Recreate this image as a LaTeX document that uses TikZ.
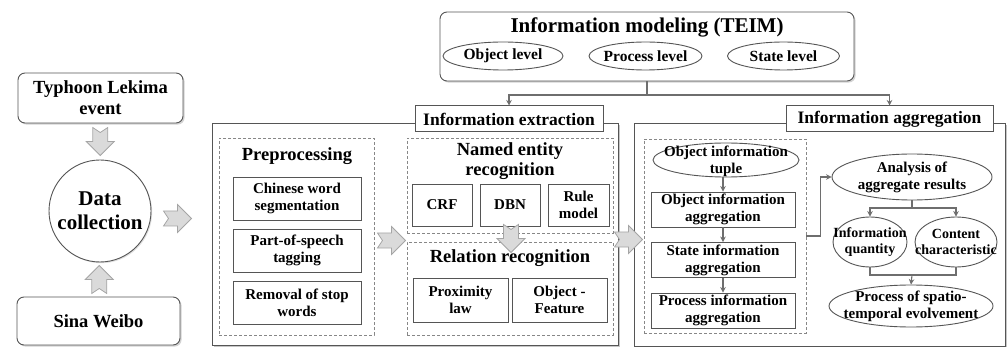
\documentclass[tikz,border=0pt]{standalone}
\usepackage{fontspec}
\setmainfont{Liberation Serif}
\usetikzlibrary{shapes.geometric,shadows,calc,arrows.meta}

\definecolor{edgec}{RGB}{85,85,85}
\definecolor{dashc}{RGB}{135,135,135}
\definecolor{arrfill}{RGB}{218,218,218}
\definecolor{arrline}{RGB}{165,165,165}
\definecolor{connc}{RGB}{110,110,110}

\newcommand\fs[2]{\fontsize{#1}{#2}\selectfont\bfseries}
% wide grey block arrow with a notched tail, pointing along +x before rotation
\newcommand\blockarr[2]{%
  \draw[blockarrow, shift={(#1)}, rotate=#2]
    (-14,-7.5) -- (0,-7.5) -- (0,-14) -- (14,0) -- (0,14) -- (0,7.5) -- (-14,7.5) -- (-9,0) -- cycle;}

\tikzset{
  box/.style={draw=edgec, line width=0.9pt, fill=white, inner sep=0pt, align=center, font=\fs{15}{17}},
  rbox/.style={box, rounded corners=7pt, drop shadow={shadow xshift=1.6pt, shadow yshift=-1.6pt, opacity=0.35}},
  outer/.style={draw=edgec, line width=1pt, fill=white, inner sep=0pt, drop shadow={shadow xshift=1.5pt, shadow yshift=-1.5pt, opacity=0.45}},
  tag/.style={box, line width=1pt, font=\fs{17.5}{18}},
  dashbox/.style={draw=dashc, line width=0.9pt, dash pattern=on 3pt off 2pt, inner sep=0pt},
  heading/.style={align=center, inner sep=0pt, font=\fs{18.5}{20}},
  ell/.style={ellipse, draw=edgec, line width=0.9pt, fill=white, inner sep=0pt},
  txt/.style={align=center, inner sep=0pt, font=\fs{15}{17}},
  blockarrow/.style={fill=arrfill, draw=arrline, line width=0.8pt, line join=miter},
  conn/.style={draw=connc, line width=1.1pt, -{Stealth[length=5.5pt,width=5.5pt]}},
  plain/.style={draw=connc, line width=1.1pt},
}

\begin{document}
\begin{tikzpicture}[x=1pt,y=-1pt]
\useasboundingbox (0,0) rectangle (1008,347);

% ---------- data collection ----------
\node[rbox, minimum width=165, minimum height=50, font=\fs{18.5}{21}] (typhoon) at (100.5,98) {Typhoon Lekima\\event};
\node[circle, draw=edgec, line width=0.9pt, fill=white, inner sep=0pt, minimum size=102, align=center, font=\fs{21}{24},
      drop shadow={shadow xshift=1.2pt, shadow yshift=-1.2pt, opacity=0.25}] (datacol) at (100,211) {Data\\collection};
\node[rbox, minimum width=163, minimum height=48, font=\fs{18.5}{21}] (sina) at (98.5,321) {Sina Weibo};

\blockarr{$(typhoon.south)!0.5!(datacol.north)$}{-90}
\blockarr{$(sina.north)!0.5!(datacol.south)$}{90}
\blockarr{177.5,218.5}{0}

% ---------- information modeling ----------
\node[rbox, minimum width=414, minimum height=69] (teim) at (647,46.5) {};
\node[heading, font=\fs{21}{22}] (teimtitle) at (647,27.5) {Information modeling (TEIM)};
\node[ell, minimum width=120, minimum height=28] (objlevel) at (503,56) {};
\node[txt, font=\fs{15.5}{16}] at (objlevel) {Object level};
\node[ell, minimum width=113, minimum height=28] (proclevel) at (645.5,56) {};
\node[txt, font=\fs{15.5}{16}] at (proclevel) {Process level};
\node[ell, minimum width=112, minimum height=28] (statelevel) at (783.5,56) {};
\node[txt, font=\fs{15.5}{16}] at (statelevel) {State level};

% ---------- information extraction ----------
\node[outer, minimum width=406, minimum height=221] (extouter) at (415,234.5) {};
\node[tag, minimum width=188, minimum height=26] (extlabel) at (509,119) {Information extraction};

\node[dashbox, minimum width=155, minimum height=197] (predash) at (296.5,236.5) {};
\node[heading] (pretitle) at (297,156) {Preprocessing};
\node[box, minimum width=128, minimum height=43] (chinese) at (297,198.5) {Chinese word\\segmentation};
\node[box, minimum width=128, minimum height=43] (pos) at (297,250.5) {Part-of-speech\\tagging};
\node[box, minimum width=128, minimum height=43] (removal) at (297,302.5) {Removal of stop\\words};

\node[dashbox, minimum width=206, minimum height=95] (nerdash) at (510,185.5) {};
\node[heading] (nertitle) at (510,161) {Named entity\\recognition};
\node[box, minimum width=60, minimum height=42] (crf) at (442,205) {CRF};
\node[box, minimum width=60, minimum height=42] (dbn) at (510,205) {DBN};
\node[box, minimum width=61, minimum height=42] (rule) at (578.5,205) {Rule\\model};

\node[dashbox, minimum width=206, minimum height=93] (reldash) at (510,288.5) {};
\node[heading] (reltitle) at (510,258) {Relation recognition};
\node[box, minimum width=95, minimum height=44] (prox) at (460.5,300) {Proximity\\law};
\node[box, minimum width=95, minimum height=44] (objfeat) at (559.5,300) {Object -\\Feature};

\blockarr{391.5,240.5}{0}
\blockarr{$(dbn.south)+(1,12)$}{-90}

% ---------- information aggregation ----------
\node[outer, minimum width=371, minimum height=222] (aggouter) at (819.5,235) {};
\node[tag, minimum width=207, minimum height=26] (agglabel) at (889.5,119) {Information aggregation};

\node[dashbox, minimum width=162, minimum height=194] (aggdash) at (725,236) {};
\node[ell, minimum width=146, minimum height=34] (tuple) at (726,160) {};
\node[txt] at (726,161) {Object information\\tuple};
\node[box, minimum width=144, minimum height=35] (objagg) at (723,209.5) {Object information\\aggregation};
\node[box, minimum width=144, minimum height=35] (stateagg) at (723,260) {State information\\aggregation};
\node[box, minimum width=144, minimum height=35] (procagg) at (723,310.5) {Process information\\aggregation};

\draw[conn] (tuple.south -| objagg.north) -- (objagg.north);
\draw[conn] (objagg) -- (stateagg);
\draw[conn] (stateagg) -- (procagg);

\node[ell, minimum width=160, minimum height=46] (analysis) at (912,177) {};
\node[txt] at (analysis) {Analysis of\\aggregate results};
\node[ell, minimum width=74, minimum height=50] (quant) at (870,242) {};
\node[txt, font=\fs{14}{16}] at (quant) {Information\\quantity};
\node[ell, minimum width=82, minimum height=50] (content) at (956,242) {};
\node[txt, font=\fs{14}{16}] at (content) {Content\\characteristic};
\node[ell, minimum width=164, minimum height=42] (spatio) at (911,306) {};
\node[txt] at (spatio) {Process of spatio-\\temporal evolvement};

\draw[conn] (aggdash.east) -- ++(14,0) |- (analysis.west);
\coordinate (fork) at (912,208);
\draw[plain] (analysis.south) -- (fork);
\draw[conn] (fork) -| (quant.north);
\draw[conn] (fork) -| (content.north);
\coordinate (join) at (912,275);
\draw[plain] (quant.south) |- (join) -| (content.south);
\draw[conn] (join) -- (spatio.north);

\blockarr{628.5,239.5}{0}

% ---------- modeling feeds both stages ----------
\coordinate (split) at (647,95);
\draw[plain] (teim.south) -- (split);
\draw[conn] (split) -| (extlabel.north);
\draw[conn] (split) -| (agglabel.north);
\end{tikzpicture}
\end{document}
